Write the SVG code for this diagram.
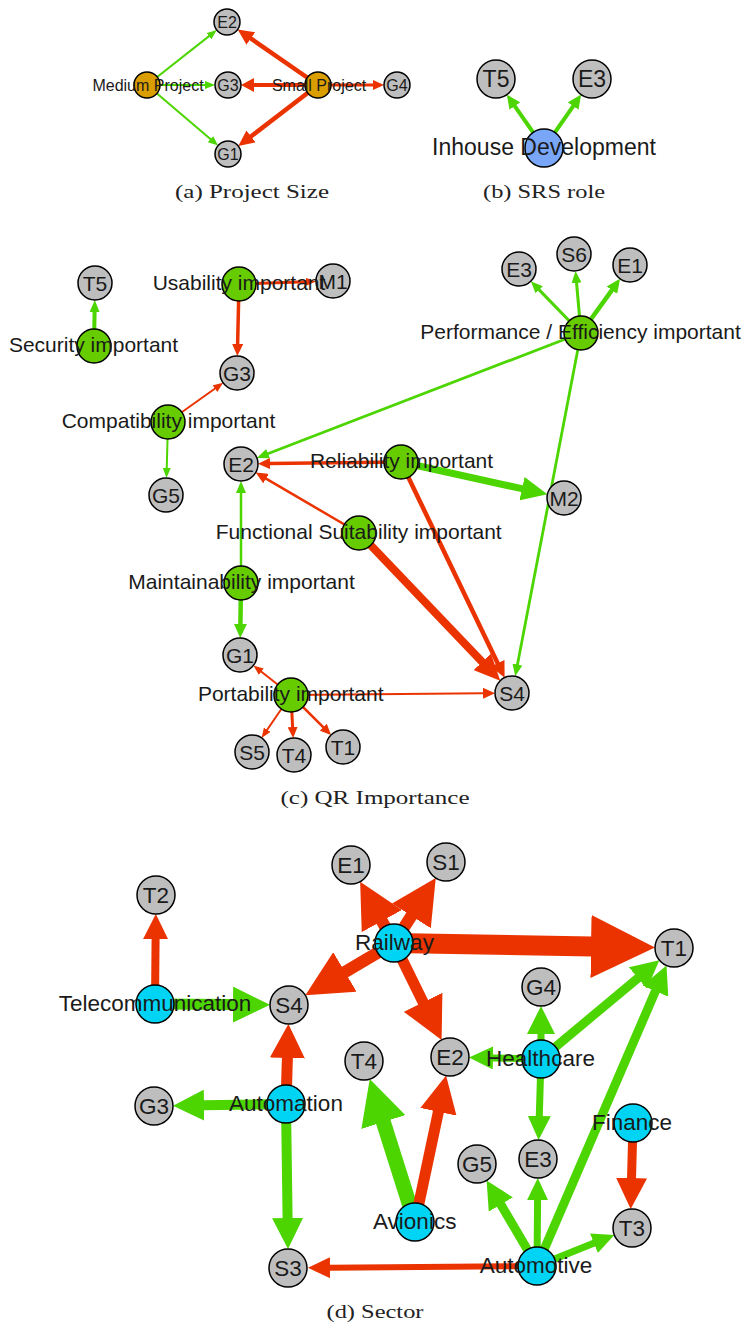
<svg xmlns="http://www.w3.org/2000/svg" width="746" height="1328" viewBox="0 0 746 1328">
<style>
.gr{stroke:#4CD500;fill:none}
.rd{stroke:#EB3300;fill:none}
circle{stroke:#000;stroke-width:1.5}
.gy{fill:#BEBEBE}
.og{fill:#DB9E00}
.bl{fill:#79A6F6}
.lg{fill:#66CC00}
.cy{fill:#00D4F4}
text{font-family:"Liberation Sans",Arial,sans-serif;fill:#1a1a1a;text-anchor:middle}
.fa{font-size:16px}
.fb{font-size:23px}
.fc{font-size:21px}
.fd{font-size:22.5px}
.cap{font-family:"Liberation Serif","Times New Roman",serif;font-size:19px;fill:#222}
</style>
<defs>
<marker id="gA" viewBox="0 0 10 8" refX="1" refY="4" markerWidth="10" markerHeight="8" markerUnits="userSpaceOnUse" orient="auto"><path d="M0,0L10,4L0,8z" fill="#4CD500"/></marker>
<marker id="g12" viewBox="0 0 12 10" refX="1" refY="5" markerWidth="12" markerHeight="10" markerUnits="userSpaceOnUse" orient="auto"><path d="M0,0L12,5L0,10z" fill="#4CD500"/></marker>
<marker id="g14" viewBox="0 0 14 13" refX="1" refY="6.5" markerWidth="14" markerHeight="13" markerUnits="userSpaceOnUse" orient="auto"><path d="M0,0L14,6.5L0,13z" fill="#4CD500"/></marker>
<marker id="g22" viewBox="0 0 22 21" refX="1" refY="10.5" markerWidth="22" markerHeight="21" markerUnits="userSpaceOnUse" orient="auto"><path d="M0,0L22,10.5L0,21z" fill="#4CD500"/></marker>
<marker id="g24" viewBox="0 0 24 23" refX="1" refY="11.5" markerWidth="24" markerHeight="23" markerUnits="userSpaceOnUse" orient="auto"><path d="M0,0L24,11.5L0,23z" fill="#4CD500"/></marker>
<marker id="g26" viewBox="0 0 26 24" refX="1" refY="12" markerWidth="26" markerHeight="24" markerUnits="userSpaceOnUse" orient="auto"><path d="M0,0L26,12L0,24z" fill="#4CD500"/></marker>
<marker id="g28" viewBox="0 0 28 28" refX="1" refY="14" markerWidth="28" markerHeight="28" markerUnits="userSpaceOnUse" orient="auto"><path d="M0,0L28,14L0,28z" fill="#4CD500"/></marker>
<marker id="g31" viewBox="0 0 31 31" refX="1" refY="15.5" markerWidth="31" markerHeight="31" markerUnits="userSpaceOnUse" orient="auto"><path d="M0,0L31,15.5L0,31z" fill="#4CD500"/></marker>
<marker id="g37" viewBox="0 0 37 36" refX="1" refY="18" markerWidth="37" markerHeight="36" markerUnits="userSpaceOnUse" orient="auto"><path d="M0,0L37,18L0,36z" fill="#4CD500"/></marker>
<marker id="g45" viewBox="0 0 45 46" refX="1" refY="23" markerWidth="45" markerHeight="46" markerUnits="userSpaceOnUse" orient="auto"><path d="M0,0L45,23L0,46z" fill="#4CD500"/></marker>
<marker id="rA" viewBox="0 0 10 8" refX="1" refY="4" markerWidth="10" markerHeight="8" markerUnits="userSpaceOnUse" orient="auto"><path d="M0,0L10,4L0,8z" fill="#EB3300"/></marker>
<marker id="r11" viewBox="0 0 11 10" refX="1" refY="5" markerWidth="11" markerHeight="10" markerUnits="userSpaceOnUse" orient="auto"><path d="M0,0L11,5L0,10z" fill="#EB3300"/></marker>
<marker id="r12" viewBox="0 0 12 11" refX="1" refY="5.5" markerWidth="12" markerHeight="11" markerUnits="userSpaceOnUse" orient="auto"><path d="M0,0L12,5.5L0,11z" fill="#EB3300"/></marker>
<marker id="r13" viewBox="0 0 13 14" refX="1" refY="7" markerWidth="13" markerHeight="14" markerUnits="userSpaceOnUse" orient="auto"><path d="M0,0L13,7L0,14z" fill="#EB3300"/></marker>
<marker id="r16" viewBox="0 0 16 15" refX="1" refY="7.5" markerWidth="16" markerHeight="15" markerUnits="userSpaceOnUse" orient="auto"><path d="M0,0L16,7.5L0,15z" fill="#EB3300"/></marker>
<marker id="r22" viewBox="0 0 22 21" refX="1" refY="10.5" markerWidth="22" markerHeight="21" markerUnits="userSpaceOnUse" orient="auto"><path d="M0,0L22,10.5L0,21z" fill="#EB3300"/></marker>
<marker id="r25" viewBox="0 0 25 25" refX="1" refY="12.5" markerWidth="25" markerHeight="25" markerUnits="userSpaceOnUse" orient="auto"><path d="M0,0L25,12.5L0,25z" fill="#EB3300"/></marker>
<marker id="r26" viewBox="0 0 26 24" refX="1" refY="12" markerWidth="26" markerHeight="24" markerUnits="userSpaceOnUse" orient="auto"><path d="M0,0L26,12L0,24z" fill="#EB3300"/></marker>
<marker id="r31" viewBox="0 0 31 31" refX="1" refY="15.5" markerWidth="31" markerHeight="31" markerUnits="userSpaceOnUse" orient="auto"><path d="M0,0L31,15.5L0,31z" fill="#EB3300"/></marker>
<marker id="r34" viewBox="0 0 34 35" refX="1" refY="17.5" markerWidth="34" markerHeight="35" markerUnits="userSpaceOnUse" orient="auto"><path d="M0,0L34,17.5L0,35z" fill="#EB3300"/></marker>
<marker id="r37" viewBox="0 0 37 37" refX="1" refY="18.5" markerWidth="37" markerHeight="37" markerUnits="userSpaceOnUse" orient="auto"><path d="M0,0L37,18.5L0,37z" fill="#EB3300"/></marker>
<marker id="r42" viewBox="0 0 42 43" refX="1" refY="21.5" markerWidth="42" markerHeight="43" markerUnits="userSpaceOnUse" orient="auto"><path d="M0,0L42,21.5L0,43z" fill="#EB3300"/></marker>
<marker id="r45" viewBox="0 0 45 46" refX="1" refY="23" markerWidth="45" markerHeight="46" markerUnits="userSpaceOnUse" orient="auto"><path d="M0,0L45,23L0,46z" fill="#EB3300"/></marker>
<marker id="r46" viewBox="0 0 46 46" refX="1" refY="23" markerWidth="46" markerHeight="46" markerUnits="userSpaceOnUse" orient="auto"><path d="M0,0L46,23L0,46z" fill="#EB3300"/></marker>
<marker id="r64" viewBox="0 0 64 63" refX="1" refY="31.5" markerWidth="64" markerHeight="63" markerUnits="userSpaceOnUse" orient="auto"><path d="M0,0L64,31.5L0,63z" fill="#EB3300"/></marker>
</defs>
<rect width="746" height="1328" fill="#fff"/>

<g id="connectors">
<!-- (a) -->
<line class="gr" stroke-width="2" x1="147" y1="85" x2="209.7" y2="35.6" marker-end="url(#gA)"/>
<line class="gr" stroke-width="2" x1="147" y1="85" x2="206" y2="85" marker-end="url(#gA)"/>
<line class="gr" stroke-width="2" x1="147" y1="85" x2="211.25" y2="139.73" marker-end="url(#gA)"/>
<line class="rd" stroke-width="4.5" x1="318" y1="85" x2="250" y2="37.94" marker-end="url(#r16)"/>
<line class="rd" stroke-width="4" x1="318" y1="85" x2="253" y2="85" marker-end="url(#r13)"/>
<line class="rd" stroke-width="4.5" x1="318" y1="85" x2="250.22" y2="136.96" marker-end="url(#r16)"/>
<line class="rd" stroke-width="3" x1="318" y1="85" x2="374" y2="85" marker-end="url(#r11)"/>
<!-- (b) -->
<line class="gr" stroke-width="4" x1="544" y1="148" x2="514.27" y2="105.27" marker-end="url(#g14)"/>
<line class="gr" stroke-width="4" x1="544" y1="148" x2="573.73" y2="105.27" marker-end="url(#g14)"/>
<!-- (c) -->
<line class="gr" stroke-width="4" x1="94" y1="346" x2="94.6" y2="311" marker-end="url(#g12)"/>
<line class="rd" stroke-width="3" x1="239" y1="284" x2="307" y2="281.8" marker-end="url(#rA)"/>
<line class="rd" stroke-width="3.5" x1="239" y1="284" x2="237.6" y2="345" marker-end="url(#r12)"/>
<line class="rd" stroke-width="2" x1="168" y1="422" x2="215.8" y2="388.05" marker-end="url(#rA)"/>
<line class="gr" stroke-width="2" x1="168" y1="422" x2="166.72" y2="469" marker-end="url(#gA)"/>
<line class="gr" stroke-width="3" x1="581" y1="333" x2="538.48" y2="289.11" marker-end="url(#g12)"/>
<line class="gr" stroke-width="3" x1="581" y1="333" x2="576.47" y2="281.9" marker-end="url(#g12)"/>
<line class="gr" stroke-width="4.5" x1="581" y1="333" x2="612.46" y2="289.34" marker-end="url(#g14)"/>
<line class="gr" stroke-width="2.8" x1="581" y1="333" x2="267.12" y2="453.94" marker-end="url(#g12)"/>
<line class="gr" stroke-width="2.8" x1="581" y1="333" x2="517.27" y2="665.5" marker-end="url(#g12)"/>
<line class="rd" stroke-width="3.5" x1="401" y1="462" x2="269" y2="463.6" marker-end="url(#r12)"/>
<line class="gr" stroke-width="7" x1="401" y1="462" x2="522.99" y2="488.94" marker-end="url(#g26)"/>
<line class="rd" stroke-width="4.5" x1="401" y1="462" x2="498.14" y2="664.16" marker-end="url(#r16)"/>
<line class="rd" stroke-width="2.5" x1="359" y1="533" x2="265.18" y2="478.13" marker-end="url(#r12)"/>
<line class="rd" stroke-width="8" x1="359" y1="533" x2="482.97" y2="662.64" marker-end="url(#r26)"/>
<line class="gr" stroke-width="2.5" x1="241" y1="583" x2="241" y2="492" marker-end="url(#g12)"/>
<line class="gr" stroke-width="4.5" x1="241" y1="583" x2="240.4" y2="625" marker-end="url(#g14)"/>
<line class="rd" stroke-width="2" x1="291" y1="695" x2="260.46" y2="671.04" marker-end="url(#rA)"/>
<line class="rd" stroke-width="2" x1="291" y1="695" x2="266.68" y2="730.54" marker-end="url(#rA)"/>
<line class="rd" stroke-width="3" x1="291" y1="695" x2="292.65" y2="728.03" marker-end="url(#r11)"/>
<line class="rd" stroke-width="2.5" x1="291" y1="695" x2="323.91" y2="727.91" marker-end="url(#r11)"/>
<line class="rd" stroke-width="2" x1="291" y1="695" x2="484" y2="693.25" marker-end="url(#r12)"/>
<!-- (d) -->
<line class="rd" stroke-width="8" x1="155" y1="1004" x2="155.6" y2="938" marker-end="url(#r25)"/>
<line class="gr" stroke-width="11" x1="155" y1="1004" x2="234" y2="1004.6" marker-end="url(#g37)"/>
<line class="rd" stroke-width="12" x1="394" y1="943" x2="381.41" y2="920.17" marker-end="url(#r45)"/>
<line class="rd" stroke-width="12" x1="394" y1="943" x2="411.97" y2="915.02" marker-end="url(#r45)"/>
<line class="rd" stroke-width="20" x1="394" y1="943" x2="592" y2="946.5" marker-end="url(#r64)"/>
<line class="rd" stroke-width="12" x1="394" y1="943" x2="344.11" y2="972.46" marker-end="url(#r46)"/>
<line class="rd" stroke-width="11" x1="394" y1="943" x2="423.54" y2="1003.15" marker-end="url(#r42)"/>
<line class="gr" stroke-width="7" x1="541" y1="1059" x2="541" y2="1033" marker-end="url(#g28)"/>
<line class="gr" stroke-width="7" x1="541" y1="1059" x2="492" y2="1057.9" marker-end="url(#g24)"/>
<line class="gr" stroke-width="9" x1="541" y1="1059" x2="638.68" y2="977.48" marker-end="url(#g28)"/>
<line class="gr" stroke-width="7" x1="541" y1="1059" x2="539.26" y2="1117" marker-end="url(#g24)"/>
<line class="gr" stroke-width="9" x1="537" y1="1266" x2="655.8" y2="990.25" marker-end="url(#g28)"/>
<line class="gr" stroke-width="7" x1="537" y1="1266" x2="537.6" y2="1199" marker-end="url(#g22)"/>
<line class="gr" stroke-width="9" x1="537" y1="1266" x2="500.32" y2="1203.65" marker-end="url(#g28)"/>
<line class="gr" stroke-width="7" x1="537" y1="1266" x2="594.86" y2="1242.86" marker-end="url(#g22)"/>
<line class="rd" stroke-width="6" x1="537" y1="1266" x2="329" y2="1267.7" marker-end="url(#r22)"/>
<line class="rd" stroke-width="11" x1="286" y1="1104" x2="287.42" y2="1057" marker-end="url(#r34)"/>
<line class="gr" stroke-width="10" x1="286" y1="1104" x2="203" y2="1105.2" marker-end="url(#g31)"/>
<line class="gr" stroke-width="10" x1="286" y1="1104" x2="287.6" y2="1219" marker-end="url(#g31)"/>
<line class="gr" stroke-width="15" x1="415" y1="1222" x2="383.03" y2="1121.06" marker-end="url(#g45)"/>
<line class="rd" stroke-width="11" x1="415" y1="1222" x2="438.59" y2="1110.81" marker-end="url(#r37)"/>
<line class="rd" stroke-width="9" x1="633" y1="1123" x2="631.5" y2="1179" marker-end="url(#r31)"/>
</g>

<!-- (a) nodes -->
<g id="a-E2"><circle class="gy" cx="227" cy="22" r="13"/><text class="fa" x="227" y="27.7">E2</text></g>
<g id="a-G3"><circle class="gy" cx="228" cy="85" r="13"/><text class="fa" x="228" y="90.7">G3</text></g>
<g id="a-G1"><circle class="gy" cx="228" cy="154" r="13"/><text class="fa" x="228" y="159.7">G1</text></g>
<g id="a-G4"><circle class="gy" cx="397" cy="85" r="13"/><text class="fa" x="397" y="90.7">G4</text></g>
<g id="a-medium"><circle class="og" cx="147" cy="85" r="13"/><text class="fa" x="148" y="90.5">Medium Project</text></g>
<g id="a-small"><circle class="og" cx="318" cy="85" r="13"/><text class="fa" x="319" y="90.5">Small Project</text></g>
<text class="cap" x="252" y="198" textLength="154" lengthAdjust="spacingAndGlyphs">(a) Project Size</text>

<!-- (b) nodes -->
<g id="b-T5"><circle class="gy" cx="496" cy="79" r="19"/><text class="fb" x="496" y="87">T5</text></g>
<g id="b-E3"><circle class="gy" cx="592" cy="79" r="19"/><text class="fb" x="592" y="87">E3</text></g>
<g id="b-inhouse"><circle class="bl" cx="544" cy="148" r="19"/><text class="fb" x="544" y="154.5">Inhouse Development</text></g>
<text class="cap" x="544" y="198" textLength="122" lengthAdjust="spacingAndGlyphs">(b) SRS role</text>

<!-- (c) nodes -->
<g id="c-T5"><circle class="gy" cx="95" cy="283" r="17"/><text class="fc" x="95" y="290.5">T5</text></g>
<g id="c-M1"><circle class="gy" cx="333" cy="281" r="17"/><text class="fc" x="333" y="288.5">M1</text></g>
<g id="c-G3"><circle class="gy" cx="237" cy="373" r="17"/><text class="fc" x="237" y="380.5">G3</text></g>
<g id="c-G5"><circle class="gy" cx="166" cy="495" r="17"/><text class="fc" x="166" y="502.5">G5</text></g>
<g id="c-E2"><circle class="gy" cx="241" cy="464" r="17"/><text class="fc" x="241" y="471.5">E2</text></g>
<g id="c-E3"><circle class="gy" cx="519" cy="269" r="17"/><text class="fc" x="519" y="276.5">E3</text></g>
<g id="c-S6"><circle class="gy" cx="574" cy="254" r="17"/><text class="fc" x="574" y="261.5">S6</text></g>
<g id="c-E1"><circle class="gy" cx="630" cy="265" r="17"/><text class="fc" x="630" y="272.5">E1</text></g>
<g id="c-M2"><circle class="gy" cx="564" cy="498" r="17"/><text class="fc" x="564" y="505.5">M2</text></g>
<g id="c-G1"><circle class="gy" cx="240" cy="655" r="17"/><text class="fc" x="240" y="662.5">G1</text></g>
<g id="c-S4"><circle class="gy" cx="512" cy="693" r="17"/><text class="fc" x="512" y="700.5">S4</text></g>
<g id="c-S5"><circle class="gy" cx="252" cy="752" r="17"/><text class="fc" x="252" y="759.5">S5</text></g>
<g id="c-T4"><circle class="gy" cx="294" cy="755" r="17"/><text class="fc" x="294" y="762.5">T4</text></g>
<g id="c-T1"><circle class="gy" cx="343" cy="747" r="17"/><text class="fc" x="343" y="754.5">T1</text></g>
<g id="c-security"><circle class="lg" cx="94" cy="346" r="17"/><text class="fc" x="93.5" y="351.5">Security important</text></g>
<g id="c-usability"><circle class="lg" cx="239" cy="284" r="17"/><text class="fc" x="239" y="289.5">Usability important</text></g>
<g id="c-compatibility"><circle class="lg" cx="168" cy="422" r="17"/><text class="fc" x="168.5" y="427.5">Compatibility important</text></g>
<g id="c-performance"><circle class="lg" cx="581" cy="333" r="17"/><text class="fc" x="580.5" y="338.5">Performance / Efficiency important</text></g>
<g id="c-reliability"><circle class="lg" cx="401" cy="462" r="17"/><text class="fc" x="401.5" y="467.5">Reliability important</text></g>
<g id="c-functional"><circle class="lg" cx="359" cy="533" r="17"/><text class="fc" x="358.7" y="538.5">Functional Suitability important</text></g>
<g id="c-maintainability"><circle class="lg" cx="241" cy="583" r="17"/><text class="fc" x="241.5" y="588.5">Maintainability important</text></g>
<g id="c-portability"><circle class="lg" cx="291" cy="695" r="17"/><text class="fc" x="290.7" y="700.5">Portability important</text></g>
<text class="cap" x="375" y="804" textLength="189" lengthAdjust="spacingAndGlyphs">(c) QR Importance</text>

<!-- (d) nodes -->
<g id="d-T2"><circle class="gy" cx="156" cy="895" r="19"/><text class="fd" x="156" y="903">T2</text></g>
<g id="d-E1"><circle class="gy" cx="351" cy="865" r="19"/><text class="fd" x="351" y="873">E1</text></g>
<g id="d-S1"><circle class="gy" cx="446" cy="862" r="19"/><text class="fd" x="446" y="870">S1</text></g>
<g id="d-S4"><circle class="gy" cx="289" cy="1005" r="19"/><text class="fd" x="289" y="1013">S4</text></g>
<g id="d-T1"><circle class="gy" cx="674" cy="948" r="19"/><text class="fd" x="674" y="956">T1</text></g>
<g id="d-G4"><circle class="gy" cx="541" cy="987" r="19"/><text class="fd" x="541" y="995">G4</text></g>
<g id="d-E2"><circle class="gy" cx="450" cy="1057" r="19"/><text class="fd" x="450" y="1065">E2</text></g>
<g id="d-T4"><circle class="gy" cx="364" cy="1061" r="19"/><text class="fd" x="364" y="1069">T4</text></g>
<g id="d-G3"><circle class="gy" cx="154" cy="1106" r="19"/><text class="fd" x="154" y="1114">G3</text></g>
<g id="d-S3"><circle class="gy" cx="288" cy="1268" r="19"/><text class="fd" x="288" y="1276">S3</text></g>
<g id="d-G5"><circle class="gy" cx="477" cy="1164" r="19"/><text class="fd" x="477" y="1172">G5</text></g>
<g id="d-E3"><circle class="gy" cx="538" cy="1159" r="19"/><text class="fd" x="538" y="1167">E3</text></g>
<g id="d-T3"><circle class="gy" cx="632" cy="1228" r="19"/><text class="fd" x="632" y="1236">T3</text></g>
<g id="d-telecommunication"><circle class="cy" cx="155" cy="1004" r="19"/><text class="fd" x="155" y="1011">Telecommunication</text></g>
<g id="d-railway"><circle class="cy" cx="394" cy="943" r="19"/><text class="fd" x="394.5" y="950">Railway</text></g>
<g id="d-healthcare"><circle class="cy" cx="541" cy="1059" r="19"/><text class="fd" x="540.5" y="1066">Healthcare</text></g>
<g id="d-automation"><circle class="cy" cx="286" cy="1104" r="19"/><text class="fd" x="286" y="1111">Automation</text></g>
<g id="d-avionics"><circle class="cy" cx="415" cy="1222" r="19"/><text class="fd" x="414.7" y="1229">Avionics</text></g>
<g id="d-finance"><circle class="cy" cx="633" cy="1123" r="19"/><text class="fd" x="632" y="1130">Finance</text></g>
<g id="d-automotive"><circle class="cy" cx="537" cy="1266" r="19"/><text class="fd" x="536" y="1273">Automotive</text></g>
<text class="cap" x="375" y="1318" textLength="97" lengthAdjust="spacingAndGlyphs">(d) Sector</text>
</svg>
